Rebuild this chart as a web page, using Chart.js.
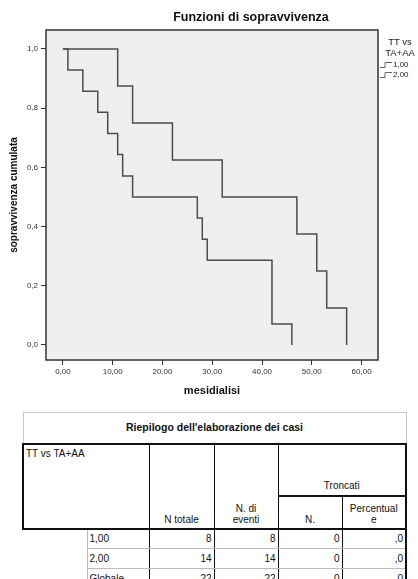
<!DOCTYPE html>
<html lang="it">
<head>
<meta charset="utf-8">
<title>Funzioni di sopravvivenza</title>
<script src="https://cdn.jsdelivr.net/npm/chart.js@4.4.1/dist/chart.umd.min.js"></script>
<style>
  html, body { margin: 0; padding: 0; background: #fff; }
  body { width: 418px; height: 579px; overflow: hidden; position: relative; font-family: Arial, "Liberation Sans", sans-serif; }
  #wrap { position: absolute; left: 0; top: 0; width: 418px; height: 405px; }
  #km { position: absolute; left: 0; top: 0; }
  #chartTitle { position: absolute; left: 150px; width: 202px; top: 10px; line-height: 14px; text-align: center; font-weight: bold; font-size: 12.5px; color: #111; }
  #legend { position: absolute; left: 380px; top: 36px; width: 40px; color: #222; }
  #legend .lt { text-align: center; font-size: 9.5px; line-height: 11px; }
  #legend .item { font-size: 8px; line-height: 10px; white-space: nowrap; }
  #legend svg { vertical-align: middle; margin-right: 1px; }

  #cases { position: absolute; left: 22px; top: 412px; border-collapse: collapse; table-layout: fixed; font-size: 10px; line-height: 11px; color: #111; }
  #cases td { padding: 0 2px; overflow: hidden; box-sizing: border-box; }
  #cases .ttl td { height: 31px; border: 1px solid #c8c8c8; text-align: center; font-weight: bold; font-size: 10.5px; }
  #cases .h1 td { height: 52px; }
  #cases .h2 td { height: 33px; }
  #cases .hd td { border: 1px solid #111; vertical-align: bottom; text-align: center; padding-bottom: 3px; }
  #cases .hd td.grp { vertical-align: top; text-align: left; padding-top: 3px; }
  #cases .hd td.tr { padding-bottom: 4px; }
  #cases .hd { border-top: 2px solid #111; }
  #cases .h2 { border-bottom: 2px solid #111; }
  #cases .dt td { height: 20px; border-top: 1px solid #bbb; border-bottom: 1px solid #bbb; border-left: 1px solid #111; text-align: right; }
  #cases .dt td.lab { text-align: left; border-left: 1px solid #bbb; }
  #cases .dt td.blank { border-top: none; border-bottom: none; border-left: none; }
  #cases .dt td.last { border-right: 2px solid #111; }
  #cases .hd td.first { border-left: 2px solid #111; }
  #cases .hd td.last { border-right: 2px solid #111; }
</style>
</head>
<body>
<div id="wrap">
  <canvas id="km" width="418" height="405"></canvas>
  <div id="chartTitle">Funzioni di sopravvivenza</div>
  <div id="legend"></div>
</div>
<table id="cases"></table>

<script>
// ===================================
// DATA
// ===================================

const groupLabels = ['1,00', '2,00'];
const legendTitle = ['TT vs', 'TA+AA'];

// group 1,00 (8 cases, all events)
const timesGroup1 = [0, 11, 14, 22, 32, 47, 51, 53, 57];
const survGroup1 = [1.000, 0.875, 0.750, 0.625, 0.500, 0.375, 0.250, 0.125, 0.000];

// group 2,00 (14 cases, all events)
const timesGroup2 = [0, 1, 4, 7, 9, 11, 12, 14, 27, 28, 29, 42, 46];
const survGroup2 = [1.000, 0.929, 0.857, 0.786, 0.714, 0.643, 0.571, 0.500, 0.429, 0.357, 0.286, 0.071, 0.000];

const xTickValues = [0, 10, 20, 30, 40, 50, 60];
const yTickValues = [0, 0.2, 0.4, 0.6, 0.8, 1.0];

// case summary table
const tableTitle = "Riepilogo dell'elaborazione dei casi";
const rowLabels = ['1,00', '2,00', 'Globale'];
const nTotale = [8, 14, 22];
const nEventi = [8, 14, 22];
const nTroncati = [0, 0, 0];
const pctTroncati = [',0', ',0', ',0'];

// ===================================
// HELPERS
// ===================================

function toPoints(times, surv) {
  return times.map((t, i) => ({ x: t, y: surv[i] }));
}

function comma(v, digits) {
  return v.toFixed(digits).replace('.', ',');
}

const lineColor = '#4d4d4d';
const axisColor = '#333';

// grey plot background + dark frame, like the SPSS output
const plotFrame = {
  id: 'plotFrame',
  beforeDraw(chart) {
    const { ctx, chartArea: a } = chart;
    ctx.save();
    ctx.fillStyle = '#efefef';
    ctx.fillRect(a.left, a.top, a.right - a.left, a.bottom - a.top);
    ctx.restore();
  },
  afterDatasetsDraw(chart) {
    const { ctx, chartArea: a } = chart;
    ctx.save();
    ctx.strokeStyle = axisColor;
    ctx.lineWidth = 1.5;
    ctx.strokeRect(a.left, a.top, a.right - a.left, a.bottom - a.top);
    ctx.restore();
  }
};

// ===================================
// CHART
// ===================================

const ctx = document.getElementById('km');
const kmChart = new Chart(ctx, {
  type: 'line',
  data: {
    datasets: [
      {
        label: groupLabels[0],
        data: toPoints(timesGroup1, survGroup1),
        stepped: 'before',
        borderColor: lineColor,
        borderWidth: 1.5,
        pointRadius: 0,
        fill: false
      },
      {
        label: groupLabels[1],
        data: toPoints(timesGroup2, survGroup2),
        stepped: 'before',
        borderColor: lineColor,
        borderWidth: 1.5,
        pointRadius: 0,
        fill: false
      }
    ]
  },
  options: {
    responsive: false,
    animation: false,
    layout: { padding: { top: 30, right: 40, left: 0, bottom: 0 } },
    plugins: {
      legend: { display: false },
      title: { display: false },
      tooltip: { enabled: false }
    },
    scales: {
      x: {
        type: 'linear',
        min: -3.4,
        max: 63.3,
        afterFit: s => { s.height = 45; },
        afterBuildTicks: s => { s.ticks = xTickValues.map(v => ({ value: v })); },
        border: { display: false },
        grid: { display: true, drawOnChartArea: false, drawTicks: true, tickLength: 5, color: axisColor, lineWidth: 1 },
        ticks: {
          padding: 2,
          color: axisColor,
          font: { family: 'Arial, "Liberation Sans", sans-serif', size: 8 },
          maxRotation: 0,
          callback: v => comma(v, 2)
        },
        title: {
          display: true,
          text: 'mesidialisi',
          color: '#111',
          font: { family: 'Arial, "Liberation Sans", sans-serif', size: 11, weight: 'bold' },
          padding: { top: 0, bottom: 7 }
        }
      },
      y: {
        min: -0.051,
        max: 1.064,
        afterFit: s => { s.width = 46; },
        afterBuildTicks: s => { s.ticks = yTickValues.map(v => ({ value: v })); },
        border: { display: false },
        grid: { display: true, drawOnChartArea: false, drawTicks: true, tickLength: 5, color: axisColor, lineWidth: 1 },
        ticks: {
          padding: 3,
          color: axisColor,
          font: { family: 'Arial, "Liberation Sans", sans-serif', size: 8 },
          callback: v => comma(v, 1)
        },
        title: {
          display: true,
          text: 'sopravvivenza cumulata',
          color: '#111',
          font: { family: 'Arial, "Liberation Sans", sans-serif', size: 10, weight: 'bold' },
          padding: { top: 8, bottom: 0 }
        }
      }
    }
  },
  plugins: [plotFrame]
});

// ===================================
// LEGEND (html, right of the plot)
// ===================================

const stepIcon = '<svg width="12" height="8"><polyline points="0,6.5 5,6.5 5,1.5 12,1.5" fill="none" stroke="#666" stroke-width="1"/></svg>';
let legendHtml = legendTitle.map(t => `<div class="lt">${t}</div>`).join('');
legendHtml += '<div style="height:2px"></div>';
groupLabels.forEach(l => { legendHtml += `<div class="item">${stepIcon}${l}</div>`; });
document.getElementById('legend').innerHTML = legendHtml;

// ===================================
// CASE SUMMARY TABLE
// ===================================

function buildTable() {
  const widths = [64, 62, 65, 64, 64, 64];
  let html = '<colgroup>' + widths.map(w => `<col style="width:${w}px">`).join('') + '</colgroup>';
  html += `<tr class="ttl"><td colspan="6">${tableTitle}</td></tr>`;
  html += '<tr class="hd h1">' +
    '<td class="grp first" colspan="2" rowspan="2">TT vs TA+AA</td>' +
    '<td rowspan="2">N totale</td>' +
    '<td rowspan="2">N. di<br>eventi</td>' +
    '<td class="tr last" colspan="2">Troncati</td>' +
    '</tr>';
  html += '<tr class="hd h2"><td>N.</td><td class="last">Percentual<br>e</td></tr>';
  rowLabels.forEach((lab, i) => {
    html += '<tr class="dt">' +
      (i === 0 ? `<td class="blank" rowspan="${rowLabels.length}"></td>` : '') +
      `<td class="lab">${lab}</td>` +
      `<td>${nTotale[i]}</td>` +
      `<td>${nEventi[i]}</td>` +
      `<td>${nTroncati[i]}</td>` +
      `<td class="last">${pctTroncati[i]}</td>` +
      '</tr>';
  });
  document.getElementById('cases').innerHTML = html;
}

buildTable();
</script>
</body>
</html>
